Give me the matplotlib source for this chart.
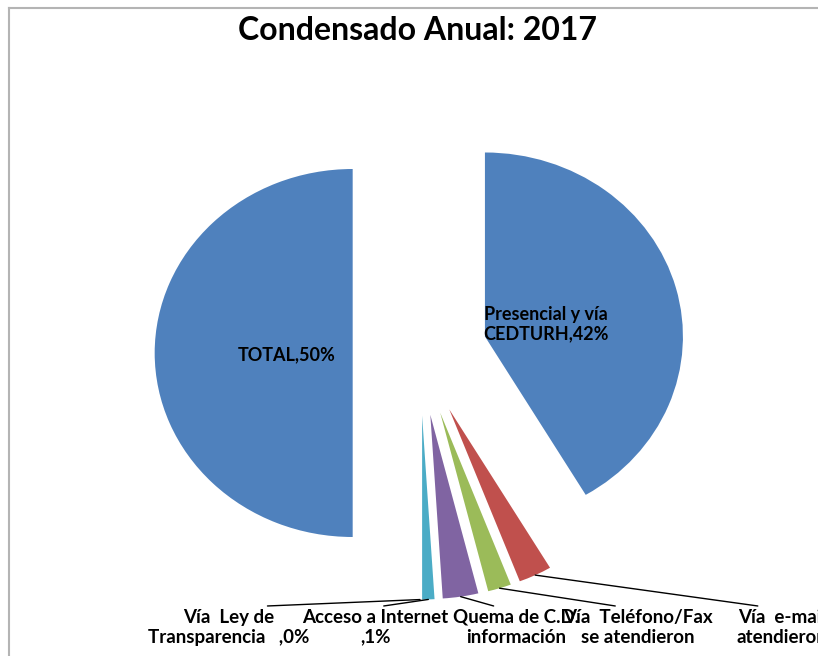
import matplotlib
matplotlib.use('Agg')
import matplotlib.pyplot as plt
import numpy as np
from matplotlib.lines import Line2D

# Data (clockwise from 12 o'clock, as in the Excel chart)
categories = ['Presencial y vía CEDTURH', 'Vía e-mail se atendieron',
              'Vía Teléfono/Fax se atendieron', 'Quema de C.D. información',
              'Acceso a Internet', 'Vía Ley de Transparencia', 'TOTAL']
values = [41.5, 2.7, 1.9, 2.9, 1.0, 0.0, 50.0]
label_texts = ['Presencial y vía\nCEDTURH,42%', 'Vía  e-mail\natendieron',
               'Vía  Teléfono/Fax\nse atendieron', 'Quema de C.D.\ninformación',
               'Acceso a Internet\n,1%', 'Vía  Ley de\nTransparencia   ,0%',
               'TOTAL,50%']
colors = ['#4F81BD', '#C0504D', '#9BBB59', '#8064A2', '#4BACC6', '#F79646', '#4F81BD']

# label anchor positions (data coords)
label_pos = [(0.636, 0.158), (1.83, -1.39), (1.10, -1.39), (0.485, -1.39),
             (-0.227, -1.39), (-0.965, -1.39), (-0.672, -0.011)]
outside = [False, True, True, True, True, True, False]
# where the leader line leaves the label box (fraction of its width)
leader_relx = [0.5, 0.45, 0.47, 0.4, 0.43, 0.33, 0.5]

plt.rcParams['font.family'] = ['Lato', 'DejaVu Sans']

fig = plt.figure(figsize=(8.18, 6.56), dpi=100)
ax = fig.add_axes([0, 0, 1, 1])

wedges, _ = ax.pie(values, colors=colors, startangle=90, counterclock=False,
                   explode=[0.34] * len(values), radius=1,
                   wedgeprops=dict(linewidth=0))

# non-square scaling like the stretched original
ax.set_aspect('auto')
ax.set_xlim(-420 / 198, 398 / 198)
ax.set_ylim(-303 / 184, 353 / 184)
ax.axis('off')

for w, txt, pos, out, rx in zip(wedges, label_texts, label_pos, outside, leader_relx):
    if out:
        mid = np.deg2rad((w.theta1 + w.theta2) / 2)
        cx, cy = w.center
        tip = (cx + w.r * np.cos(mid), cy + w.r * np.sin(mid))
        ax.annotate(txt, xy=tip, xytext=pos, ha='center', va='top',
                    fontsize=13.5, fontweight='bold', multialignment='center',
                    linespacing=1.2, annotation_clip=False,
                    arrowprops=dict(arrowstyle='-', color='black', lw=1,
                                    shrinkA=0, shrinkB=0, relpos=(rx, 1.0)))
    else:
        ax.text(pos[0], pos[1], txt, ha='center', va='center', fontsize=13,
                fontweight='bold', multialignment='center', linespacing=1.2)

fig.text(0.511, 1 - 30 / 656, 'Condensado Anual: 2017', ha='center', va='center',
         fontsize=23, fontweight='bold')

# chart area border: only top and left edges are inside the picture
x0, y0 = 9 / 818, 1 - 8 / 656
fig.add_artist(Line2D([x0, 1.05], [y0, y0], transform=fig.transFigure,
                      color='#b4b4b4', linewidth=1.5))
fig.add_artist(Line2D([x0, x0], [-0.05, y0], transform=fig.transFigure,
                      color='#b4b4b4', linewidth=1.5))

fig.savefig('out.png', dpi=100)
